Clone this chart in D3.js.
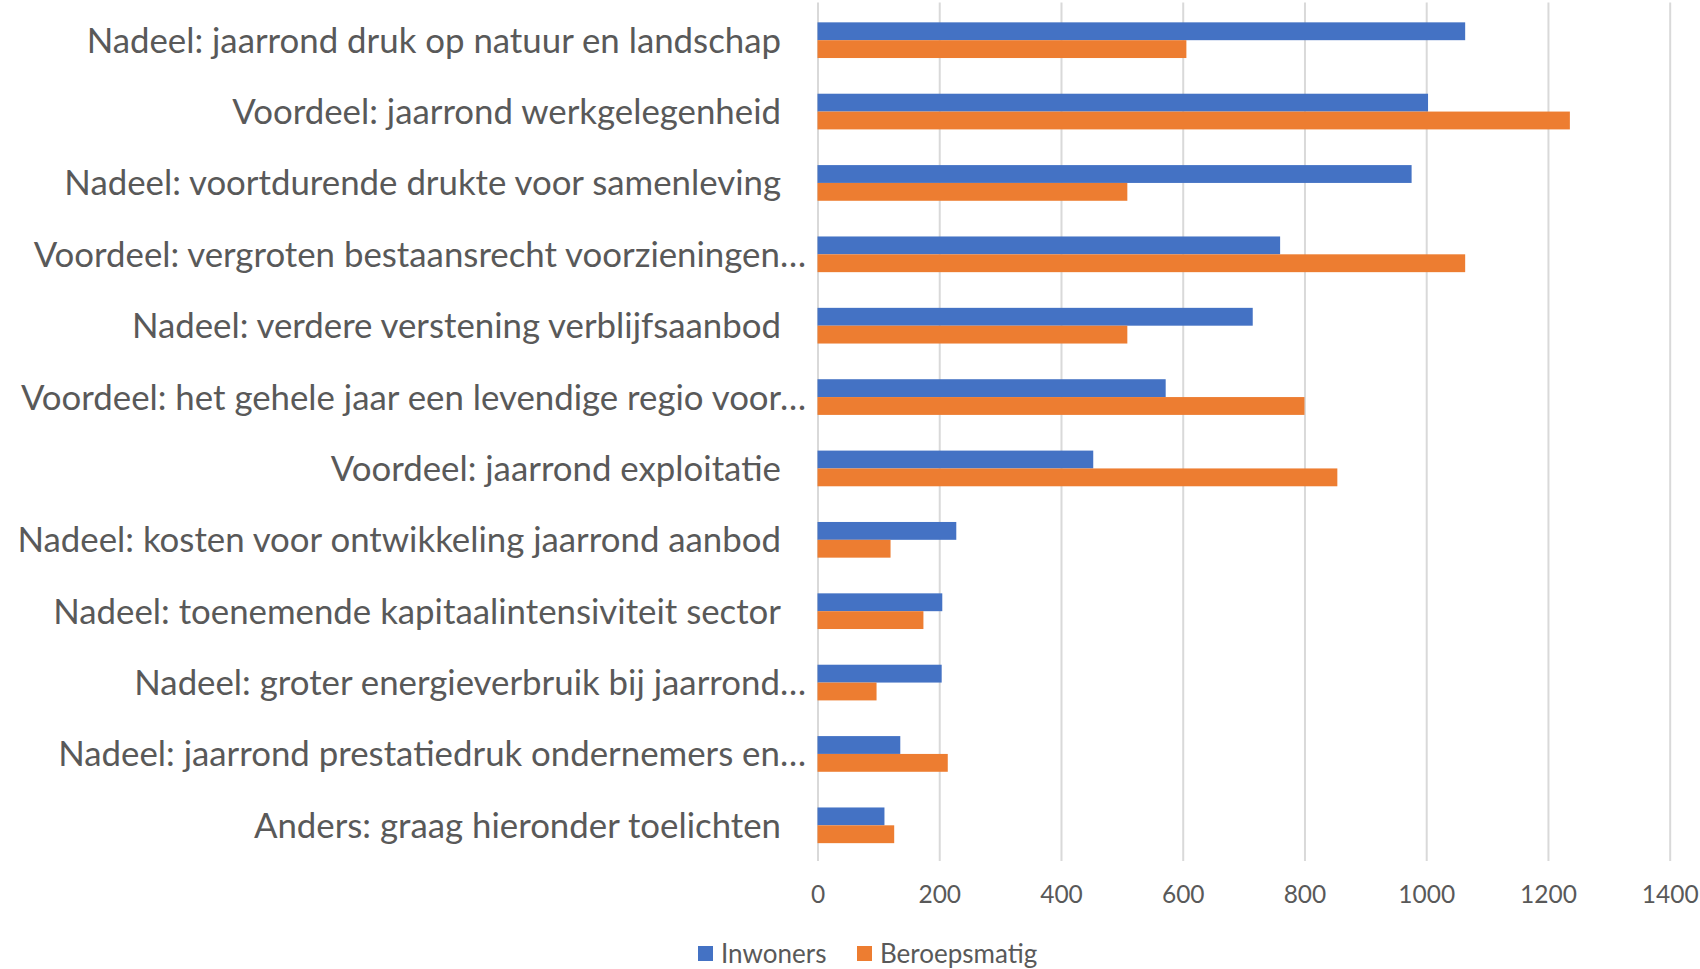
<!DOCTYPE html>
<html>
<head>
<meta charset="utf-8">
<script src="https://cdn.jsdelivr.net/npm/d3@7"></script>
<style>
  body { margin: 0; background: #fff; }
  text { font-family: Lato, "Open Sans", sans-serif; fill: #595959; }
</style>
</head>
<body>
<svg id="chart" width="1700" height="969"></svg>
<script>
const categories = [
  "Nadeel: jaarrond druk op natuur en landschap",
  "Voordeel: jaarrond werkgelegenheid",
  "Nadeel: voortdurende drukte voor samenleving",
  "Voordeel: vergroten bestaansrecht voorzieningen…",
  "Nadeel: verdere verstening verblijfsaanbod",
  "Voordeel: het gehele jaar een levendige regio voor…",
  "Voordeel: jaarrond exploitatie",
  "Nadeel: kosten voor ontwikkeling jaarrond aanbod",
  "Nadeel: toenemende kapitaalintensiviteit sector",
  "Nadeel: groter energieverbruik bij jaarrond…",
  "Nadeel: jaarrond prestatiedruk ondernemers en…",
  "Anders: graag hieronder toelichten"
];
const seriesNames = ["Inwoners", "Beroepsmatig"];
const inwoners =     [1064, 1003, 976, 760, 715, 572, 453, 228, 205, 204, 136, 110];
const beroepsmatig = [606, 1236, 509, 1064, 509, 800, 854, 120, 174, 97, 214, 126];
const tickValues = [0, 200, 400, 600, 800, 1000, 1200, 1400];
const colors = ["#4472C4", "#ED7D31"];

const svg = d3.select("#chart");
const x0 = 817.5, x1 = 1669.7, yTop = 4.5, yBot = 861;

const x = d3.scaleLinear().domain([0, 1400]).range([x0, x1]);
const y = d3.scaleBand().domain(categories).range([yTop, yBot]).paddingInner(0.5).paddingOuter(0.25);
const ySub = d3.scaleBand().domain(seriesNames).range([0, y.bandwidth()]);

// gridlines
const grid = d3.axisBottom(x).tickValues(tickValues).tickSize(-(yBot - yTop + 2)).tickFormat("");
svg.append("g").attr("transform", `translate(0,${yBot})`).call(grid)
  .call(g => g.select(".domain").remove())
  .call(g => g.selectAll("line").attr("stroke", "#d9d9d9").attr("stroke-width", 2));

// tick labels
const axis = d3.axisBottom(x).tickValues(tickValues).tickSize(0).tickPadding(0).tickFormat(d3.format("d"));
svg.append("g").attr("transform", `translate(0,${yBot + 25})`).call(axis)
  .call(g => g.select(".domain").remove())
  .call(g => g.selectAll("text").attr("font-size", 24.5).style("font-family", "Lato, sans-serif").attr("fill", "#595959").attr("dy", "0.71em"));

// bars
const rows = categories.map((c, i) => ({ c, vals: [inwoners[i], beroepsmatig[i]] }));
const grp = svg.append("g").selectAll("g").data(rows).join("g")
  .attr("transform", d => `translate(0,${y(d.c)})`);
grp.selectAll("rect").data(d => d.vals.map((v, j) => ({ v, s: seriesNames[j], j })))
  .join("rect")
  .attr("x", x(0))
  .attr("y", d => ySub(d.s))
  .attr("width", d => x(d.v) - x(0))
  .attr("height", ySub.bandwidth())
  .attr("fill", d => colors[d.j]);

// category labels
svg.append("g").selectAll("text").data(categories).join("text")
  .attr("x", d => d.endsWith("…") ? 806 : 781)
  .attr("y", d => y(d) + y.bandwidth() / 2)
  .attr("dy", "0.36em")
  .attr("text-anchor", "end")
  .attr("font-size", 34.8)
  .text(d => d);

// legend
const legend = svg.append("g").attr("transform", "translate(698,954)");
const legX = [0, 159];
seriesNames.forEach((s, i) => {
  const g = legend.append("g").attr("transform", `translate(${legX[i]},0)`);
  g.append("rect").attr("x", 0).attr("y", -8).attr("width", 15).attr("height", 15).attr("fill", colors[i]);
  g.append("text").attr("x", 23).attr("y", 0).attr("dy", "0.35em").attr("font-size", 26).text(s);
});
</script>
</body>
</html>
